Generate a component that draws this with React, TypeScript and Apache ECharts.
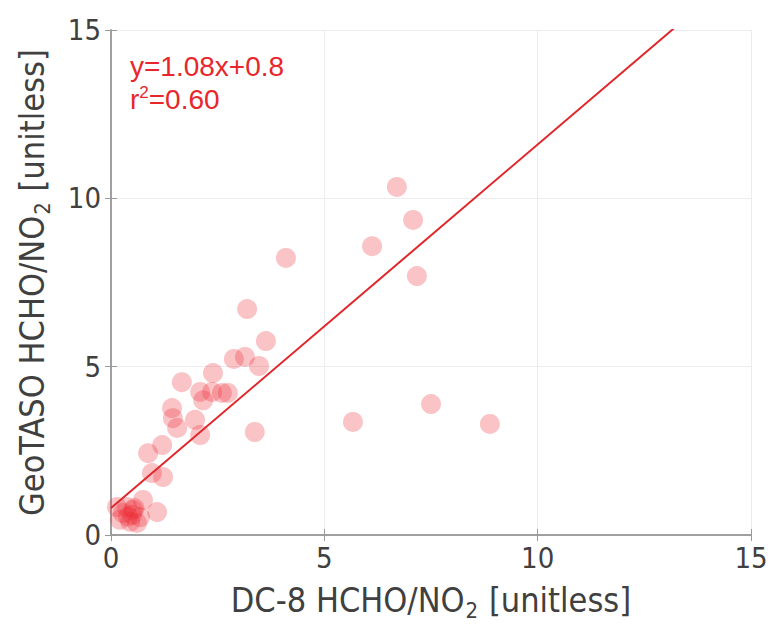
import React, { useEffect, useRef } from "react";
import * as echarts from "echarts";

const dc8X: number[] = [
  6.70, 7.08, 6.12, 7.17, 4.10, 3.19, 3.63, 3.47, 3.14, 2.88,
  2.39, 1.66, 3.37, 5.67, 7.50, 8.88, 2.09, 2.37, 2.60, 2.74,
  2.16, 1.43, 1.45, 1.55, 1.97, 2.09, 1.20, 0.87, 0.96, 1.22,
  0.52, 1.08, 0.28, 0.21, 0.61, 0.75, 0.45, 0.37, 0.68, 0.14,
  0.55, 0.50, 0.40,
];
const geoY: number[] = [
  10.34, 9.36, 8.58, 7.69, 8.23, 6.71, 5.76, 5.02, 5.29, 5.23,
  4.81, 4.54, 3.06, 3.36, 3.89, 3.30, 4.25, 4.25, 4.22, 4.22,
  4.00, 3.77, 3.47, 3.18, 3.42, 2.97, 2.67, 2.43, 1.84, 1.72,
  0.74, 0.68, 0.65, 0.45, 0.36, 1.04, 0.39, 0.83, 0.53, 0.83,
  0.80, 0.60, 0.55,
];
const slope = 1.08;
const intercept = 0.8;
const fitX: number[] = [0, 15];

const FONT = "'Liberation Sans Narrow', 'DejaVu Sans Condensed', 'Liberation Sans', sans-serif";

export default function App() {
  const ref = useRef<HTMLDivElement>(null);
  useEffect(() => {
    if (!ref.current) return;
    const chart = echarts.init(ref.current, undefined, { renderer: "svg" });
    const pts = dc8X.map((x, i) => [x, geoY[i]]);
    const line = fitX.map((x) => [x, slope * x + intercept]);
    const axisLine = { show: true, lineStyle: { color: "#9a9a9a", width: 1.5 } };
    const axisTick = { show: true, inside: true, length: 6, lineStyle: { color: "#9a9a9a" } };
    const nameRich = {
      a: { fontSize: 34, fontFamily: FONT, color: "#404040" },
      s: { fontSize: 22, fontFamily: FONT, color: "#404040", padding: [20, 1, 0, 1] },
    };
    chart.setOption({
      animation: false,
      grid: { left: 111, right: 17, top: 30, bottom: 92, containLabel: false, outerBoundsMode: "none" },
      xAxis: [
        {
          type: "value", min: 0, max: 15, interval: 5,
          axisLine, axisTick,
          axisLabel: { fontSize: 29, fontFamily: FONT, color: "#404040", margin: 8 },
          splitLine: { show: true, lineStyle: { color: "#ececec", width: 1 } },
          name: "{a|DC-8 HCHO/NO}{s|2}{a| [unitless]}",
          nameLocation: "middle", nameGap: 44,
          nameTextStyle: { rich: nameRich },
        },
        {
          type: "value", min: 0, max: 15, interval: 5, position: "top",
          axisLine, axisTick, axisLabel: { show: false }, splitLine: { show: false },
        },
      ],
      yAxis: [
        {
          type: "value", min: 0, max: 15, interval: 5,
          axisLine, axisTick,
          axisLabel: { fontSize: 29, fontFamily: FONT, color: "#404040", margin: 10 },
          splitLine: { show: true, lineStyle: { color: "#ececec", width: 1 } },
          name: "{a|GeoTASO HCHO/NO}{s|2}{a| [unitless]}",
          nameLocation: "middle", nameGap: 58, nameRotate: 90,
          nameTextStyle: { rich: nameRich },
        },
        {
          type: "value", min: 0, max: 15, interval: 5, position: "right",
          axisLine, axisTick, axisLabel: { show: false }, splitLine: { show: false },
        },
      ],
      series: [
        {
          type: "scatter",
          data: pts,
          symbol: "circle",
          symbolSize: 20,
          itemStyle: { color: "rgba(238, 40, 50, 0.35)" },
          z: 2,
        },
        {
          type: "line",
          data: line,
          showSymbol: false,
          symbol: "none",
          lineStyle: { color: "#e0262b", width: 2 },
          z: 3,
        },
      ],
      graphic: [
        {
          type: "text", left: 130, top: 52,
          style: { text: "y=1.08x+0.8", fontSize: 28, fontFamily: "'Liberation Sans', sans-serif", fill: "#e8262b" },
        },
        {
          type: "text", left: 130, top: 84,
          style: {
            text: "{a|r}{s|2}{a|=0.60}",
            rich: {
              a: { fontSize: 28, fontFamily: "'Liberation Sans', sans-serif", fill: "#e8262b", color: "#e8262b" },
              s: { fontSize: 17, fontFamily: "'Liberation Sans', sans-serif", fill: "#e8262b", color: "#e8262b", padding: [0, 0, 14, 0] },
            },
          },
        },
      ],
    });
    return () => chart.dispose();
  }, []);
  return <div ref={ref} style={{ width: 768, height: 627, position: "absolute", left: 0, top: 0 }} />;
}
